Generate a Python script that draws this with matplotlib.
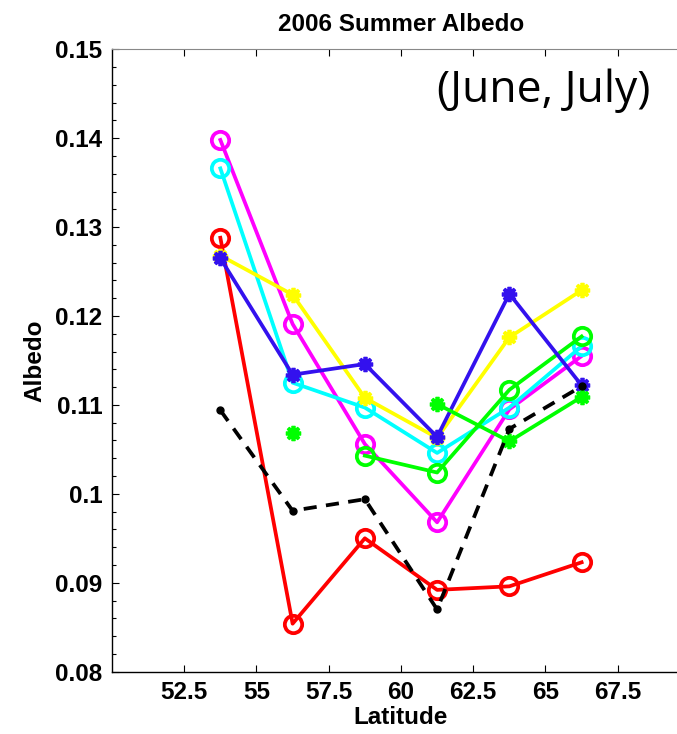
import numpy as np
import matplotlib.pyplot as plt
from matplotlib.ticker import MultipleLocator

# Latitude bands (bin centres)
lat = [53.75, 56.25, 58.75, 61.25, 63.75, 66.25]

# Albedo per series
red = [0.1288, 0.0854, 0.0950, 0.0892, 0.0896, 0.0923]
magenta = [0.1398, 0.1191, 0.1056, 0.0968, 0.1095, 0.1155]
cyan = [0.1366, 0.1125, 0.1097, 0.1046, 0.1097, 0.1166]
green_circ = [np.nan, np.nan, 0.1043, 0.1024, 0.1117, 0.1177]
yellow = [0.1268, 0.1224, 0.1108, 0.1063, 0.1176, 0.1229]
blue = [0.1265, 0.1134, 0.1146, 0.1064, 0.1225, 0.1122]
green_star = [np.nan, 0.1068, np.nan, 0.1101, 0.1059, 0.1109]
black = [0.1094, 0.0981, 0.0994, 0.0870, 0.1073, 0.1121]

plt.rcParams['font.family'] = ['Liberation Sans', 'DejaVu Sans']
plt.rcParams['font.weight'] = 'bold'

fig = plt.figure(figsize=(6.77, 7.34), dpi=100)
ax = fig.add_axes([0.1654, 0.0849, 0.8538, 0.8480])

lw = 2.7
star = (8, 2, 0)

ax.plot(lat, red, '-o', color='#ff0000', lw=lw, ms=12.5, mew=lw, mfc='none')
ax.plot(lat, magenta, '-o', color='#ff00ff', lw=lw, ms=12.5, mew=lw, mfc='none')
ax.plot(lat, cyan, '-o', color='#00ffff', lw=lw, ms=12.5, mew=lw, mfc='none')
ax.plot(lat, green_circ, '-o', color='#00ff00', lw=lw, ms=12.5, mew=lw, mfc='none')
ax.plot(lat, yellow, '-', color='#ffff00', lw=lw, marker=star, ms=11, mew=lw)
ax.plot(lat, blue, '-', color='#3311ee', lw=lw, marker=star, ms=11, mew=lw)
ax.plot(lat, green_star, '-', color='#00ff00', lw=lw, marker=star, ms=11, mew=lw)
ax.plot(lat, black, color='black', lw=lw, ls=(0, (3.5, 2.5)), marker='o', ms=5)

ax.set_xlim(50, 70)
ax.set_ylim(0.08, 0.15)
ax.set_xticks([52.5, 55, 57.5, 60, 62.5, 65, 67.5])
ax.set_xticklabels(['52.5', '55', '57.5', '60', '62.5', '65', '67.5'])
ax.set_yticks([0.08, 0.09, 0.1, 0.11, 0.12, 0.13, 0.14, 0.15])
ax.set_yticklabels(['0.08', '0.09', '0.1', '0.11', '0.12', '0.13', '0.14', '0.15'])
ax.yaxis.set_minor_locator(MultipleLocator(0.002))

ax.tick_params(which='both', direction='in', top=True, right=True,
               labelsize=17.5, width=0.8)
ax.tick_params(which='major', length=5, pad=7)
ax.tick_params(which='minor', length=3)
for s in ['top', 'right']:
    ax.spines[s].set_color('#888888')
for s in ['left', 'bottom']:
    ax.spines[s].set_linewidth(1.0)

ax.set_title('2006 Summer Albedo', fontsize=17.5, fontweight='bold', pad=13)
ax.set_xlabel('Latitude', fontsize=17.5, fontweight='bold', labelpad=1)
ax.set_ylabel('Albedo', fontsize=17.5, fontweight='bold', labelpad=6)

fig.text(650 / 677, 1 - 91 / 734, '(June, July)', family='Open Sans',
         fontweight='normal', fontsize=32, ha='right', va='center')

fig.savefig('out.png', dpi=100)
